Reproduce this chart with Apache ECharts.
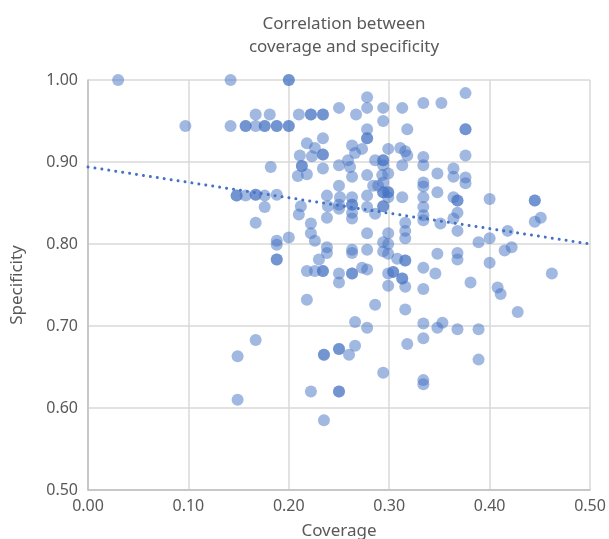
<!DOCTYPE html>
<html>
<head>
<meta charset="utf-8">
<script src="https://cdn.jsdelivr.net/npm/echarts@6/dist/echarts.min.js"></script>
<style>html,body{margin:0;padding:0;background:#fff;overflow:hidden}#c{width:609px;height:539px}</style>
</head>
<body>
<div id="c"></div>
<script>
// Data (duplicates where the marker appears darker = overlapping points)
const coverage = [
0.030,0.142,0.200,0.200,0.278,0.250,0.278,0.294,0.313,0.334,0.352,0.376,
0.167,0.181,0.210,0.222,0.222,0.234,0.234,0.267,
0.097,0.142,0.157,0.157,0.167,0.176,0.176,0.188,0.188,0.200,0.200,
0.294,0.278,0.278,0.278,0.318,0.376,0.376,0.234,0.218,0.226,0.211,0.223,0.234,0.234,
0.263,0.266,0.273,0.299,0.311,0.316,0.318,0.286,0.294,0.294,0.294,0.259,0.261,0.250,
0.263,0.278,0.234,0.213,0.213,0.182,0.209,0.218,0.313,0.334,0.334,0.348,0.364,0.364,
0.376,0.376,0.376,0.293,0.299,0.289,0.294,0.250,0.284,0.299,0.299,0.294,0.294,
0.334,0.334,0.348,0.238,0.251,0.263,0.278,0.313,0.334,0.364,0.368,0.368,0.400,0.445,0.445,
0.148,0.148,0.157,0.167,0.167,0.176,0.188,0.176,0.167,0.188,0.188,0.200,0.188,0.188,
0.212,0.210,0.222,0.222,0.226,0.230,0.218,0.226,0.234,0.234,0.218,
0.239,0.250,0.263,0.263,0.263,0.263,0.250,0.278,0.294,0.294,0.286,0.299,0.334,0.334,0.334,0.316,
0.238,0.278,0.299,0.294,0.299,0.316,0.316,0.238,0.238,0.263,0.263,0.278,0.294,0.299,0.308,
0.316,0.316,0.334,0.348,0.250,0.250,0.263,0.263,0.273,0.278,0.304,0.304,0.299,0.313,0.313,
0.299,0.316,0.334,0.286,0.316,0.266,0.278,0.334,0.348,
0.368,0.364,0.351,0.368,0.445,0.451,0.418,0.400,0.389,0.422,0.415,0.368,0.368,0.400,
0.346,0.462,0.381,0.408,0.411,0.428,0.353,0.368,0.389,
0.167,0.149,0.149,0.222,0.235,0.235,0.235,0.318,0.334,0.266,0.250,0.250,0.260,0.294,
0.334,0.334,0.250,0.250,0.389
];
const specificity = [
1.000,1.000,1.000,1.000,0.979,0.966,0.966,0.966,0.966,0.972,0.972,0.984,
0.958,0.958,0.958,0.958,0.958,0.958,0.958,0.958,
0.944,0.944,0.944,0.944,0.944,0.944,0.944,0.944,0.944,0.944,0.944,
0.950,0.940,0.929,0.929,0.940,0.940,0.940,0.929,0.923,0.917,0.908,0.907,0.909,0.909,
0.920,0.911,0.916,0.916,0.917,0.913,0.908,0.902,0.902,0.902,0.896,0.902,0.894,0.896,
0.882,0.884,0.892,0.895,0.895,0.894,0.883,0.885,0.896,0.906,0.896,0.886,0.892,0.882,
0.908,0.881,0.874,0.884,0.886,0.871,0.875,0.871,0.871,0.863,0.863,0.863,0.863,
0.875,0.870,0.863,0.859,0.857,0.857,0.859,0.857,0.857,0.857,0.853,0.853,0.855,0.853,0.853,
0.859,0.859,0.859,0.860,0.860,0.859,0.860,0.845,0.826,0.804,0.799,0.808,0.781,0.781,
0.846,0.836,0.825,0.813,0.804,0.781,0.767,0.767,0.767,0.767,0.732,
0.846,0.848,0.848,0.848,0.838,0.831,0.843,0.845,0.846,0.846,0.837,0.857,0.845,0.835,0.829,0.826,
0.832,0.813,0.813,0.802,0.800,0.816,0.807,0.796,0.789,0.793,0.789,0.793,0.791,0.788,0.782,
0.780,0.780,0.771,0.788,0.764,0.753,0.764,0.764,0.771,0.769,0.766,0.766,0.764,0.758,0.758,
0.749,0.748,0.745,0.726,0.720,0.705,0.698,0.703,0.698,
0.838,0.831,0.825,0.816,0.827,0.832,0.816,0.807,0.802,0.796,0.792,0.789,0.781,0.777,
0.764,0.764,0.753,0.747,0.739,0.717,0.704,0.696,0.696,
0.683,0.663,0.610,0.620,0.665,0.665,0.585,0.678,0.685,0.676,0.672,0.672,0.665,0.643,
0.634,0.629,0.620,0.620,0.659
];
// Linear trendline end points
const trendX = [0.0, 0.5];
const trendY = [0.894, 0.800];
const xTicks = ['0.00','0.10','0.20','0.30','0.40','0.50'];
const yTicks = ['0.50','0.60','0.70','0.80','0.90','1.00'];

const points = coverage.map((x, i) => [x, specificity[i]]);
const trend = trendX.map((x, i) => [x, trendY[i]]);

const chart = echarts.init(document.getElementById('c'), null, {renderer: 'canvas'});
const FONT = 'Noto Sans';
const GREY = '#595959';
chart.setOption({
  animation: false,
  backgroundColor: '#fff',
  title: {
    text: 'Correlation between\ncoverage and specificity',
    left: 339, top: 8, textAlign: 'center',
    textStyle: {fontFamily: FONT, fontSize: 17, fontWeight: 'normal', color: GREY, lineHeight: 23}
  },
  grid: {left: 88, right: 19, top: 80, bottom: 49, containLabel: false, outerBoundsMode: 'none'},
  xAxis: {
    type: 'value', min: 0, max: 0.5, interval: 0.1,
    name: 'Coverage', nameLocation: 'middle', nameGap: 33,
    nameTextStyle: {fontFamily: FONT, fontSize: 17, color: GREY, verticalAlign: 'top'},
    axisLine: {show: true, lineStyle: {color: '#bfbfbf', width: 1.5}},
    axisTick: {show: false},
    axisLabel: {fontFamily: FONT, fontSize: 16, color: GREY, margin: 8,
      formatter: (v) => xTicks[Math.round(v * 10)]},
    splitLine: {show: true, lineStyle: {color: '#d9d9d9', width: 1.5}}
  },
  yAxis: {
    type: 'value', min: 0.5, max: 1.0, interval: 0.1,
    name: 'Specificity', nameLocation: 'middle', nameGap: 62,
    nameTextStyle: {fontFamily: FONT, fontSize: 17, color: GREY},
    axisLine: {show: true, lineStyle: {color: '#bfbfbf', width: 1.5}},
    axisTick: {show: false},
    axisLabel: {fontFamily: FONT, fontSize: 16, color: GREY, margin: 10,
      formatter: (v) => yTicks[Math.round((v - 0.5) * 10)]},
    splitLine: {show: true, lineStyle: {color: '#d9d9d9', width: 1.5}}
  },
  series: [
    {
      type: 'scatter', data: points, symbol: 'circle', symbolSize: 12,
      itemStyle: {color: '#4472C4', opacity: 0.5}, z: 2
    },
    {
      type: 'line', data: trend, symbol: 'none', z: 3,
      lineStyle: {color: '#4472C4', width: 3, type: [0.01, 7], cap: 'round'}
    }
  ]
});
</script>
</body>
</html>
